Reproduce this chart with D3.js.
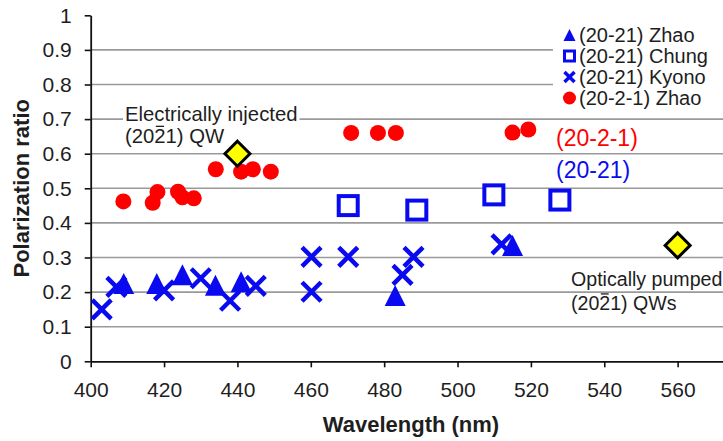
<!DOCTYPE html>
<html>
<head>
<meta charset="utf-8">
<script src="https://cdn.jsdelivr.net/npm/d3@7"></script>
<style>
  html, body { margin: 0; padding: 0; background: #fff; }
  svg { display: block; font-family: "Liberation Sans", Arial, sans-serif; }
</style>
</head>
<body>
<svg id="chart" width="723" height="441"></svg>
<script>
// Axis ticks
const xTicks = [400, 420, 440, 460, 480, 500, 520, 540, 560];
const yTicks = [0, 0.1, 0.2, 0.3, 0.4, 0.5, 0.6, 0.7, 0.8, 0.9, 1];
const yTickLabels = ["0", "0.1", "0.2", "0.3", "0.4", "0.5", "0.6", "0.7", "0.8", "0.9", "1"];

// Series: [wavelength (nm), polarization ratio]
const zhao2021 = [[409, 0.225], [418, 0.225], [425, 0.25], [434, 0.22], [441, 0.23], [483, 0.19], [515, 0.335]];
const chung2021 = [[470.2, 0.45], [488.9, 0.437], [509.9, 0.481], [527.9, 0.466]];
const kyono2021 = [[403, 0.15], [407, 0.215], [420, 0.205], [430, 0.24], [438, 0.175], [445, 0.218],
                   [460.2, 0.302], [460.2, 0.201], [470.2, 0.302], [485, 0.25], [488, 0.302], [512, 0.338]];
const zhao2021m = [[408.9, 0.462], [416.9, 0.458], [418.2, 0.489], [423.8, 0.49], [425, 0.474], [428.1, 0.471],
                   [434.1, 0.555], [441, 0.548], [444.2, 0.555], [449.1, 0.548],
                   [471, 0.66], [478.3, 0.66], [483.2, 0.66], [515, 0.661], [519.3, 0.67]];
const electricalQW = [[440, 0.6]];
const opticalQW = [[560, 0.335]];

const legendItems = [
  { label: "(20-21) Zhao", shape: "triangle" },
  { label: "(20-21) Chung", shape: "square" },
  { label: "(20-21) Kyono", shape: "cross" },
  { label: "(20-2-1) Zhao", shape: "circle" }
];

const BLUE = "#0a0af0";
const RED = "#ff0000";
const TEXT = "#1e1e1e";

const svg = d3.select("#chart");

const x = d3.scaleLinear().domain([400, 580]).range([90.7, 751]);
const y = d3.scaleLinear().domain([0, 1]).range([361.3, 15.3]);

// Horizontal gridlines
svg.append("g")
  .selectAll("line")
  .data(yTicks.filter(d => d > 0 && d < 1))
  .join("line")
  .attr("x1", x(400)).attr("x2", 723)
  .attr("y1", d => y(d)).attr("y2", d => y(d))
  .attr("stroke", "#9a9a9a").attr("stroke-width", 1.6);

// Axes
const yAxis = svg.append("g")
  .attr("transform", `translate(${x(400)},0)`)
  .call(d3.axisLeft(y).tickValues(yTicks).tickFormat((d, i) => yTickLabels[i])
        .tickSize(6).tickSizeOuter(0).tickPadding(13));
const xAxis = svg.append("g")
  .attr("transform", `translate(0,${y(0)})`)
  .call(d3.axisBottom(x).tickValues(xTicks).tickSize(6).tickSizeOuter(0).tickPadding(15));

[xAxis, yAxis].forEach(g => {
  g.select(".domain").attr("stroke", "#111").attr("stroke-width", 1.8);
  g.selectAll(".tick line").attr("stroke", "#111").attr("stroke-width", 1.6);
  g.selectAll(".tick text").attr("font-size", 21).attr("fill", TEXT)
    .attr("font-family", "'Liberation Sans', Arial, sans-serif");
});

// Axis titles
svg.append("text")
  .attr("x", 411).attr("y", 432)
  .attr("text-anchor", "middle")
  .attr("font-size", 22).attr("font-weight", "bold").attr("fill", TEXT)
  .text("Wavelength (nm)");
svg.append("text")
  .attr("transform", `translate(29,${(y(0) + y(1)) / 2}) rotate(-90)`)
  .attr("text-anchor", "middle")
  .attr("font-size", 22).attr("font-weight", "bold").attr("fill", TEXT)
  .text("Polarization ratio");

// Marker painters
const marks = svg.append("g");

function drawTriangles(data, s, color, g) {
  g.selectAll(null).data(data).join("path")
    .attr("d", d => {
      const cx = x(d[0]), cy = y(d[1]);
      return `M${cx},${cy - s / 2}L${cx + s / 2},${cy + s / 2}L${cx - s / 2},${cy + s / 2}Z`;
    })
    .attr("fill", color);
}
function drawSquares(data, s, sw, color, g) {
  g.selectAll(null).data(data).join("rect")
    .attr("x", d => x(d[0]) - s / 2).attr("y", d => y(d[1]) - s / 2)
    .attr("width", s).attr("height", s)
    .attr("fill", "#fff").attr("stroke", color).attr("stroke-width", sw);
}
function drawCrosses(data, s, sw, color, g) {
  g.selectAll(null).data(data).join("path")
    .attr("d", d => {
      const cx = x(d[0]), cy = y(d[1]), h = s / 2;
      return `M${cx - h},${cy - h}L${cx + h},${cy + h}M${cx - h},${cy + h}L${cx + h},${cy - h}`;
    })
    .attr("stroke", color).attr("stroke-width", sw).attr("fill", "none");
}
function drawCircles(data, r, color, g) {
  g.selectAll(null).data(data).join("circle")
    .attr("cx", d => x(d[0])).attr("cy", d => y(d[1])).attr("r", r)
    .attr("fill", color);
}
function drawDiamonds(data, h, g) {
  g.selectAll(null).data(data).join("path")
    .attr("d", d => {
      const cx = x(d[0]), cy = y(d[1]);
      return `M${cx},${cy - h}L${cx + h},${cy}L${cx},${cy + h}L${cx - h},${cy}Z`;
    })
    .attr("fill", "#ffff00").attr("stroke", "#000").attr("stroke-width", 3)
    .attr("stroke-linejoin", "miter");
}

drawTriangles(zhao2021, 21, BLUE, marks.append("g"));
drawSquares(chung2021, 19, 4, BLUE, marks.append("g"));
drawCrosses(kyono2021, 19, 4.5, BLUE, marks.append("g"));
drawCircles(zhao2021m, 8, RED, marks.append("g"));
drawDiamonds(electricalQW, 12.5, marks.append("g"));
drawDiamonds(opticalQW, 12.5, marks.append("g"));

// Text lines with an opaque background behind each line
function boxedLine(px, py, str, size, color, barIndex) {
  const g = svg.append("g");
  const t = g.append("text")
    .attr("x", px).attr("y", py)
    .attr("font-size", size).attr("fill", color)
    .text(str);
  const b = t.node().getBBox();
  g.insert("rect", "text")
    .attr("x", b.x - 2).attr("y", b.y + 2)
    .attr("width", b.width + 4).attr("height", b.height - 3)
    .attr("fill", "#fff");
  if (barIndex != null) {
    const e = t.node().getExtentOfChar(barIndex);
    g.append("line")
      .attr("x1", e.x + 1.5).attr("x2", e.x + e.width - 1.5)
      .attr("y1", py - size * 0.82).attr("y2", py - size * 0.82)
      .attr("stroke", color).attr("stroke-width", 1.3);
  }
  return g;
}

boxedLine(125, 121, "Electrically injected", 20.3, TEXT);
boxedLine(125, 143, "(2021) QW", 20.3, TEXT, 3);
boxedLine(571, 286, "Optically pumped", 19.6, TEXT);
boxedLine(571, 310, "(2021) QWs", 19.6, TEXT, 3);

svg.append("text").attr("x", 556).attr("y", 146)
  .attr("font-size", 23).attr("fill", RED).text("(20-2-1)");
svg.append("text").attr("x", 556).attr("y", 178)
  .attr("font-size", 23).attr("fill", BLUE).text("(20-21)");

// Legend
const legend = svg.append("g");
legend.append("rect")
  .attr("x", 553).attr("y", 22).attr("width", 175).attr("height", 89)
  .attr("fill", "#fff");
const rowY = d3.scaleLinear().domain([0, 3]).range([35, 98]);
legendItems.forEach((item, i) => {
  const cy = rowY(i), cx = 569.5;
  const g = legend.append("g");
  if (item.shape === "triangle") {
    g.append("path").attr("d", `M${cx},${cy - 6}L${cx + 6},${cy + 6}L${cx - 6},${cy + 6}Z`).attr("fill", BLUE);
  } else if (item.shape === "square") {
    g.append("rect").attr("x", cx - 5).attr("y", cy - 5).attr("width", 10).attr("height", 10)
      .attr("fill", "#fff").attr("stroke", BLUE).attr("stroke-width", 3);
  } else if (item.shape === "cross") {
    g.append("path").attr("d", `M${cx - 5},${cy - 5}L${cx + 5},${cy + 5}M${cx - 5},${cy + 5}L${cx + 5},${cy - 5}`)
      .attr("stroke", BLUE).attr("stroke-width", 3.5);
  } else {
    g.append("circle").attr("cx", cx).attr("cy", cy).attr("r", 6.5).attr("fill", RED);
  }
  g.append("text").attr("x", 579).attr("y", cy + 7)
    .attr("font-size", 20).attr("fill", TEXT).text(item.label);
});
</script>
</body>
</html>
